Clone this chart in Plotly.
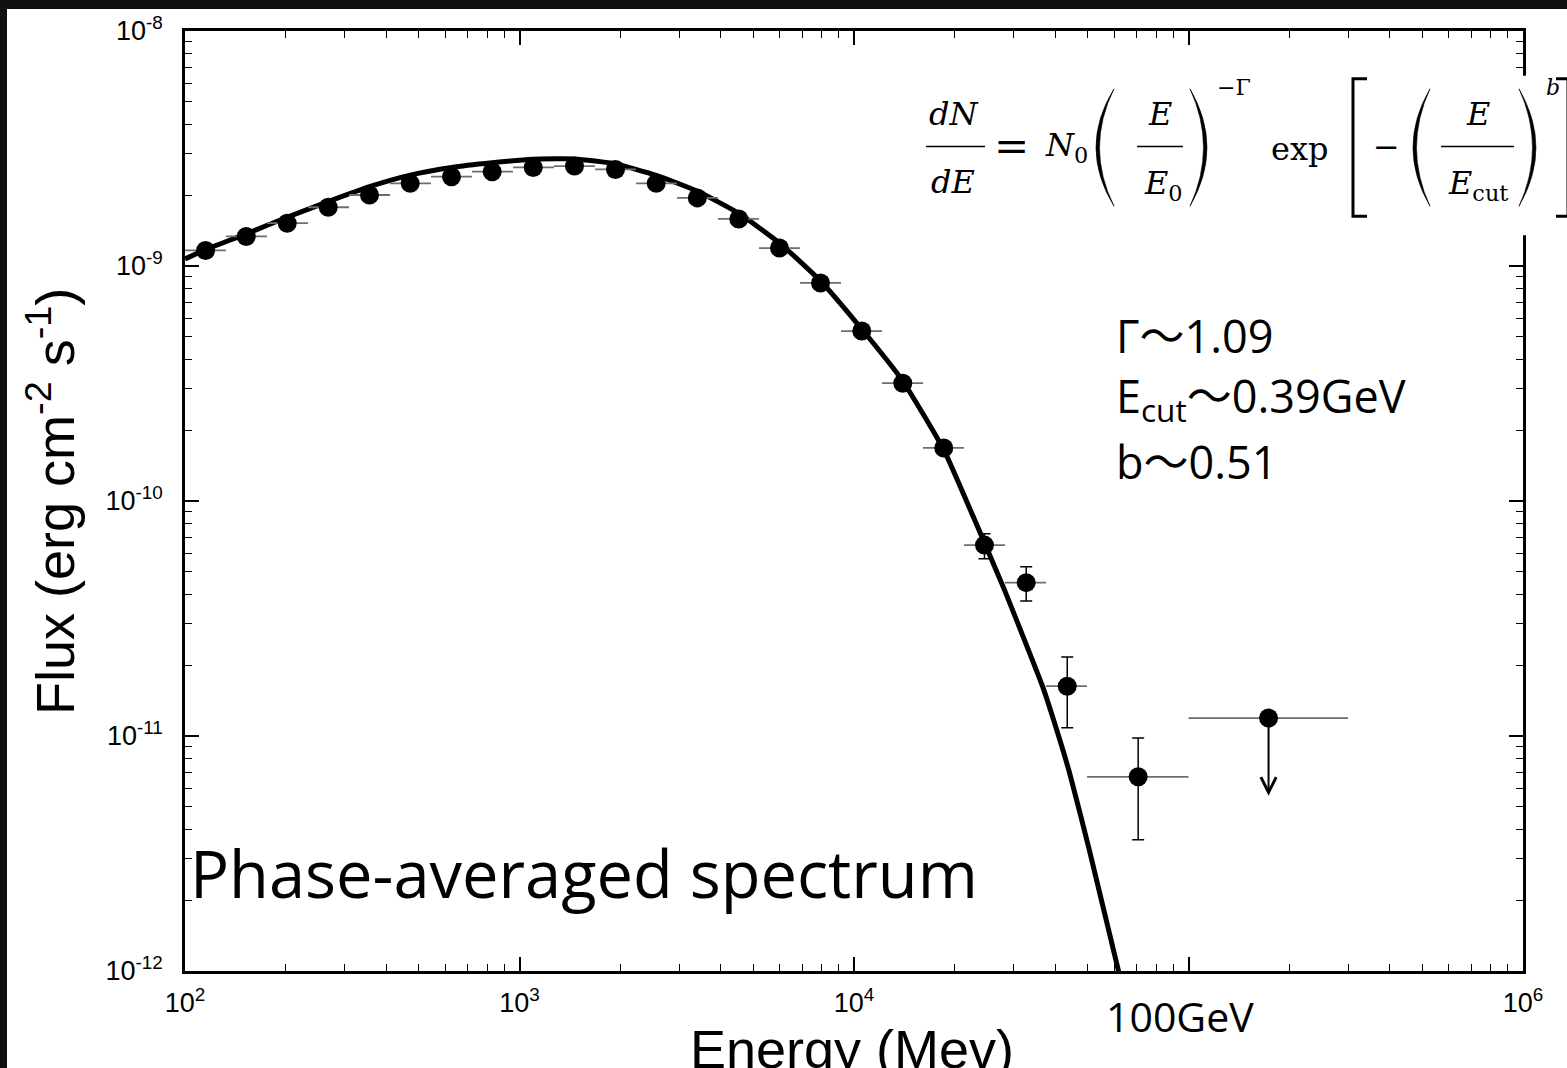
import math
import plotly.graph_objects as go

# ---------------- data ----------------
energy = [115.2, 152.4, 202.1, 268.0, 356.1, 471.2, 626.2, 828.7, 1099, 1460,
          1936, 2563, 3401, 4525, 5988, 7942, 10550, 13990, 18550, 24550,
          32720, 43400, 70720]
flux = [1.165e-9, 1.336e-9, 1.521e-9, 1.778e-9, 2.005e-9, 2.247e-9, 2.399e-9,
        2.519e-9, 2.627e-9, 2.661e-9, 2.576e-9, 2.247e-9, 1.949e-9, 1.586e-9,
        1.192e-9, 8.472e-10, 5.287e-10, 3.171e-10, 1.682e-10, 6.491e-11,
        4.493e-11, 1.629e-11, 6.704e-12]
bin_lo = [100, 132.6, 175.9, 233.2, 309.3, 410.1, 543.8, 721.1, 956.3, 1268,
          1682, 2230, 2957, 3921, 5200, 6896, 9145, 12130, 16080, 21320,
          28280, 37500, 49730]
bin_hi = [132.6, 175.9, 233.2, 309.3, 410.1, 543.8, 721.1, 956.3, 1268, 1682,
          2230, 2957, 3921, 5200, 6896, 9145, 12130, 16080, 21320, 28280,
          37500, 49730, 100000]
flux_err_up = [0, 0, 0, 0, 0, 0, 0, 0, 0, 0, 0, 0, 0, 0, 0, 0, 0, 0, 0,
               0.757e-11, 0.759e-11, 0.539e-11, 3.10e-12]
flux_err_down = [0, 0, 0, 0, 0, 0, 0, 0, 0, 0, 0, 0, 0, 0, 0, 0, 0, 0, 0,
                 0.814e-11, 0.735e-11, 0.545e-11, 3.09e-12]

ul_energy = [173500]
ul_flux = [1.192e-11]
ul_bin_lo = [100000]
ul_bin_hi = [300000]
ul_arrow_tip = [5.57e-12]

model_energy = [100, 114.4, 152.4, 202.1, 268.0, 356.1, 471.2, 626.2, 828.7,
                1099, 1460, 1936, 2563, 3405, 4515, 5988, 7942, 10530, 13960,
                18510, 21690, 24550, 27990, 36600, 40030, 44100, 50580, 61770,
                63930]
model_flux = [1.071e-9, 1.169e-9, 1.370e-9, 1.613e-9, 1.880e-9, 2.176e-9,
              2.437e-9, 2.627e-9, 2.750e-9, 2.846e-9, 2.854e-9, 2.719e-9,
              2.430e-9, 2.079e-9, 1.677e-9, 1.252e-9, 8.637e-10, 5.408e-10,
              3.255e-10, 1.661e-10, 1.0e-10, 6.637e-11, 4.279e-11, 1.629e-11,
              1.102e-11, 6.969e-12, 3.255e-12, 1.0e-12, 8.307e-13]

x_tick_vals = [1e2, 1e3, 1e4, 1e5, 1e6]
x_tick_text = ["10<sup>2</sup>", "10<sup>3</sup>", "10<sup>4</sup>", "", "10<sup>6</sup>"]
y_tick_vals = [1e-12, 1e-11, 1e-10, 1e-9, 1e-8]
y_tick_text = ["10<sup>-12</sup>", "10<sup>-11</sup>", "10<sup>-10</sup>",
               "10<sup>-9</sup>", "10<sup>-8</sup>"]

x_title = "Energy (Mev)"
y_title = "Flux (erg cm<sup>-2</sup> s<sup>-1</sup>)"
label_text = "Phase-averaged spectrum"
param_lines = ["Γ〜1.09", "E<sub>cut</sub>〜0.39GeV", "b〜0.51"]
gev_label = "100GeV"

# ---------------- layout geometry ----------------
W, H = 1567, 1068
L, R, T, B = 185, 44, 27, 97
PW, PH = W - L - R, H - T - B


def px(x):
    return (x - L) / PW


def py(y):
    return (H - B - y) / PH


def P(x, y):
    return f"{px(x):.5f},{py(y):.5f}"


x_minor = [m * 10 ** k for k in range(2, 6) for m in range(2, 10)]
y_minor = [m * 10.0 ** k for k in range(-12, -8) for m in range(2, 10)]

fig = go.Figure()

fig.add_trace(go.Scatter(
    x=model_energy, y=model_flux, mode="lines",
    line=dict(color="black", width=5, shape="spline", smoothing=0.5),
    hoverinfo="skip", showlegend=False))

fig.add_trace(go.Scatter(
    x=energy, y=flux, mode="markers",
    marker=dict(color="black", size=19),
    error_x=dict(type="data", symmetric=False,
                 array=[h - e for h, e in zip(bin_hi, energy)],
                 arrayminus=[e - l for e, l in zip(energy, bin_lo)],
                 color="#6e6e6e", thickness=1.8, width=0),
    error_y=dict(type="data", symmetric=False, array=flux_err_up,
                 arrayminus=flux_err_down, color="black", thickness=1.5,
                 width=6),
    showlegend=False))

fig.add_trace(go.Scatter(
    x=ul_energy, y=ul_flux, mode="markers",
    marker=dict(color="black", size=19),
    error_x=dict(type="data", symmetric=False,
                 array=[h - e for h, e in zip(ul_bin_hi, ul_energy)],
                 arrayminus=[e - l for e, l in zip(ul_energy, ul_bin_lo)],
                 color="#6e6e6e", thickness=1.8, width=0),
    showlegend=False))

axis_common = dict(
    type="log", showgrid=False, zeroline=False, showline=True,
    linecolor="black", linewidth=2.5, mirror="allticks", ticks="inside",
    ticklen=14, tickwidth=1.6, tickcolor="black",
    tickfont=dict(family="Liberation Sans, Arial", size=27, color="black"),
    tickmode="array",
)

fig.update_layout(
    width=W, height=H, autosize=False,
    margin=dict(l=L, r=R, t=T, b=B, pad=0),
    paper_bgcolor="#101010", plot_bgcolor="white",
    xaxis=dict(axis_common, range=[2, 6], tickvals=x_tick_vals,
               ticktext=x_tick_text, ticklabelstandoff=6,
               minor=dict(tickmode="array", tickvals=x_minor, ticks="inside",
                          ticklen=7, tickwidth=1.4, tickcolor="black",
                          showgrid=False)),
    yaxis=dict(axis_common, range=[-12, -8], tickvals=y_tick_vals,
               ticktext=y_tick_text, ticklabelstandoff=14,
               minor=dict(tickmode="array", tickvals=y_minor, ticks="inside",
                          ticklen=7, tickwidth=1.4, tickcolor="black",
                          showgrid=False)),
)

shapes = [
    # white slide area
    dict(type="rect", xref="paper", yref="paper", layer="below",
         x0=px(7), x1=px(1700), y0=py(1200), y1=py(5),
         fillcolor="white", line=dict(width=0)),
    # formula image background
    dict(type="rect", xref="paper", yref="paper", layer="above",
         x0=px(905), x1=px(1600), y0=py(232), y1=py(72),
         fillcolor="white", line=dict(width=0)),
]
# fraction bars
for x0, x1 in [(926, 985), (1137, 1183), (1441, 1514)]:
    shapes.append(dict(type="line", xref="paper", yref="paper",
                       x0=px(x0), x1=px(x1), y0=py(143), y1=py(143),
                       line=dict(color="black", width=1.6)))


def paren(x_end, x_bulge, sign):
    # crescent shaped parenthesis: sign=-1 opens right "(", +1 ")"
    top, bot, mid = 85, 203, 144
    outer = 2 * x_bulge - x_end
    inner = 2 * (x_bulge - sign * 3.5) - x_end
    path = (f"M{P(x_end, top)} Q{P(outer, mid)} {P(x_end, bot)} "
            f"Q{P(inner, mid)} {P(x_end, top)} Z")
    return dict(type="path", xref="paper", yref="paper", layer="above",
                path=path, fillcolor="black", line=dict(color="black", width=0.6))


shapes += [paren(1114, 1096, -1), paren(1190, 1207, 1),
           paren(1430, 1413, -1), paren(1519, 1536, 1)]
# square brackets
shapes.append(dict(type="path", xref="paper", yref="paper", layer="above",
                   path=f"M{P(1367, 75)} L{P(1353, 75)} L{P(1353, 213)} L{P(1367, 213)}",
                   line=dict(color="black", width=3)))
shapes.append(dict(type="path", xref="paper", yref="paper", layer="above",
                   path=f"M{P(1556, 75)} L{P(1568, 75)} L{P(1568, 213)} L{P(1556, 213)}",
                   line=dict(color="black", width=3)))
fig.update_layout(shapes=shapes)

ann = []
SANS = "Open Sans, Noto Sans CJK JP"
SERIF = "DejaVu Serif"


def text(t, x, y, size, family, xanchor="center", yanchor="middle", angle=0):
    ann.append(dict(text=t, x=px(x), y=py(y), xref="paper", yref="paper",
                    xanchor=xanchor, yanchor=yanchor, showarrow=False,
                    textangle=angle,
                    font=dict(family=family, size=size, color="black")))


text(x_title, 852, 1049, 54, "Liberation Sans, Arial")
text(y_title, 51, 500, 54, "Liberation Sans, Arial", angle=-90)
text(label_text, 188, 873, 65, SANS, xanchor="left")
text(gev_label, 1180, 1016, 41, SANS)
for i, line in enumerate(param_lines):
    text(line, 1114, 333 + 63 * i, 45, SANS, xanchor="left")

# formula
text("<i>dN</i>", 953, 110, 32, SERIF)
text("<i>dE</i>", 953, 179, 32, SERIF)
text("=", 1011, 143, 42, SERIF)
text("<i>N</i><sub>0</sub>", 1066, 143, 32, SERIF)
text("<i>E</i>", 1160, 110, 32, SERIF)
text("<i>E</i><sub>0</sub>", 1163, 182, 32, SERIF)
text("−Γ", 1234, 84, 22, SERIF)
text("exp", 1299, 146, 32, SERIF)
text("−", 1386, 143, 32, SERIF)
text("<i>E</i>", 1478, 110, 32, SERIF)
text("<i>E</i><sub>cut</sub>", 1478, 182, 32, SERIF)
text("<i>b</i>", 1553, 84, 22, SERIF)

# upper-limit arrow
ann.append(dict(x=math.log10(ul_energy[0]), y=math.log10(ul_arrow_tip[0]),
                ax=math.log10(ul_energy[0]), ay=math.log10(ul_flux[0]),
                xref="x", yref="y", axref="x", ayref="y", text="",
                showarrow=True, arrowhead=5, arrowsize=1.5, arrowwidth=2,
                arrowcolor="black"))

fig.update_layout(annotations=ann)

fig.write_html("out.html")
